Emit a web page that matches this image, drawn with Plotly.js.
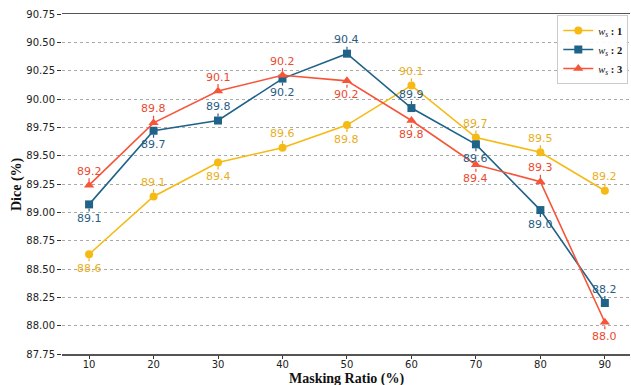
<!DOCTYPE html>
<html>
<head>
<meta charset="utf-8">
<script src="https://cdn.plot.ly/plotly-3.0.1.min.js"></script>
<style>html,body{margin:0;padding:0;background:#fff}#chart{width:631px;height:385px}</style>
</head>
<body>
<div id="chart"></div>
<script>
const maskingRatio = [10, 20, 30, 40, 50, 60, 70, 80, 90];
const ws1 = [88.63, 89.14, 89.44, 89.57, 89.77, 90.12, 89.66, 89.53, 89.19];
const ws2 = [89.07, 89.72, 89.81, 90.18, 90.40, 89.92, 89.60, 89.02, 88.20];
const ws3 = [89.24, 89.79, 90.07, 90.21, 90.16, 89.81, 89.42, 89.27, 88.03];
const seriesNames = ['<i>w</i><sub><i>s</i></sub><b> : 1</b>', '<i>w</i><sub><i>s</i></sub><b> : 2</b>', '<i>w</i><sub><i>s</i></sub><b> : 3</b>'];
const yTicks = [87.75, 88.00, 88.25, 88.50, 88.75, 89.00, 89.25, 89.50, 89.75, 90.00, 90.25, 90.50, 90.75];
const xTitle = 'Masking Ratio (%)';
const yTitle = 'Dice (%)';

// label placement: 1 = above, -1 = below
const side1 = [-1, 1, -1, 1, -1, 1, 1, 1, 1];
const side2 = [-1, -1, 1, -1, 1, 1, -1, -1, 1];
const side3 = [1, 1, 1, 1, -1, -1, -1, 1, -1];

const colors = ['#F5BA14', '#1F6389', '#F7553A'];
const textColors = ['#E9AE1E', '#2A5C84', '#EA4A30'];
const symbols = ['circle', 'square', 'triangle-up'];
const msizes = [8, 8, 9];

const data = [ws1, ws2, ws3];
const sides = [side1, side2, side3];

const traces = data.map((ys, i) => ({
  x: maskingRatio, y: ys, type: 'scatter', mode: 'lines+markers',
  name: seriesNames[i],
  line: {color: colors[i], width: 1.6},
  marker: {symbol: symbols[i], size: msizes[i], color: colors[i]}
}));

const annotations = [];
const shapes = [];
data.forEach((ys, i) => {
  ys.forEach((v, j) => {
    const s = sides[i][j];
    annotations.push({
      x: maskingRatio[j], y: v, xref: 'x', yref: 'y',
      text: v.toFixed(1), showarrow: false,
      yshift: s * 14, font: {family: 'DejaVu Sans', size: 11, color: textColors[i]}
    });
    shapes.push({
      type: 'line', xref: 'x', yref: 'y', ysizemode: 'pixel',
      x0: maskingRatio[j], x1: maskingRatio[j], yanchor: v,
      y0: s * 4, y1: s * 8,
      line: {color: textColors[i], width: 1.2, dash: 'dot'}
    });
  });
});

annotations.push({
  xref: 'paper', yref: 'paper', x: 0.5, y: 0, yshift: -25, yanchor: 'middle',
  text: '<b>' + xTitle + '</b>', showarrow: false,
  font: {family: 'Liberation Serif', size: 14, color: '#111'}
});
annotations.push({
  xref: 'paper', yref: 'paper', x: 0, y: 0.5, xshift: -45, xanchor: 'center', yanchor: 'middle',
  text: '<b>' + yTitle + '</b>', showarrow: false, textangle: -90,
  font: {family: 'Liberation Serif', size: 14, color: '#111'}
});

const layout = {
  width: 631, height: 385,
  margin: {l: 62, r: 1, t: 14, b: 31},
  paper_bgcolor: '#fff', plot_bgcolor: '#fff',
  font: {family: 'DejaVu Sans', size: 10, color: '#222'},
  showlegend: true,
  legend: {
    x: 0.997, y: 0.997, xanchor: 'right', yanchor: 'top',
    bgcolor: 'rgba(255,255,255,0.9)', bordercolor: '#ccc', borderwidth: 1,
    font: {family: 'Liberation Serif', size: 10.5, color: '#111'},
    tracegroupgap: 0, itemwidth: 30
  },
  xaxis: {
    range: [5.8, 93.9], tickvals: maskingRatio, ticktext: maskingRatio.map(String),
    showgrid: false, zeroline: false, showline: true, mirror: true,
    linecolor: '#555', linewidth: 1.5,
    ticks: 'outside', ticklen: 3, tickcolor: '#333', tickwidth: 1,
    ticklabelstandoff: -3,
    tickfont: {family: 'DejaVu Sans', size: 10, color: '#222'}
  },
  yaxis: {
    range: [87.75, 90.75], tickvals: yTicks, ticktext: yTicks.map(v => v.toFixed(2)),
    showgrid: true, gridcolor: '#aaa', griddash: 'dot', gridwidth: 1,
    zeroline: false, showline: false,
    ticks: 'outside', ticklen: 4, tickcolor: '#333', tickwidth: 1,
    tickfont: {family: 'DejaVu Sans', size: 10, color: '#222'}
  },
  annotations: annotations,
  shapes: shapes
};

Plotly.newPlot('chart', traces, layout, {displayModeBar: false, staticPlot: true});
</script>
</body>
</html>
